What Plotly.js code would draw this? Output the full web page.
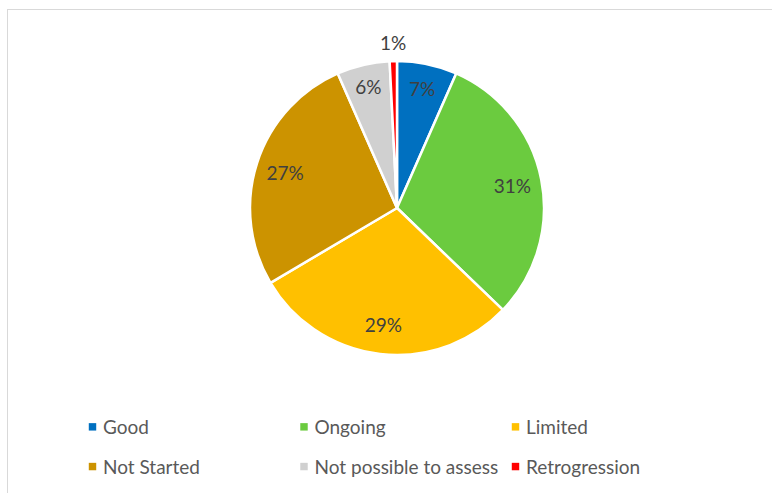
<!DOCTYPE html>
<html>
<head>
<meta charset="utf-8">
<script src="https://cdn.plot.ly/plotly-3.0.1.min.js"></script>
<style>
  html, body { margin: 0; padding: 0; background: #ffffff; overflow: hidden; }
  #frame { position: absolute; left: 7px; top: 9px; width: 800px; height: 520px;
           border-left: 1px solid #d9d9d9; border-top: 1px solid #d9d9d9; }
  #chart { position: absolute; left: 0; top: 0; width: 772px; height: 493px; }
</style>
</head>
<body>
<div id="frame"></div>
<div id="chart"></div>
<script>
const categories = ["Good", "Ongoing", "Limited", "Not Started", "Not possible to assess", "Retrogression"];
const shares = [6.6, 30.6, 29.3, 26.9, 5.8, 0.8];
const sliceColors = ["#0070C0", "#6BCB3F", "#FFC000", "#CC9300", "#D0D0D0", "#FF0000"];
const textPositions = ["inside", "inside", "inside", "inside", "inside", "none"];

const W = 772, H = 493;
const cx = 397, cy = 208, R = 147;
const pieDomain = { x: [(cx - R) / W, (cx + R) / W], y: [1 - (cy + R) / H, 1 - (cy - R) / H] };
const labelFont = { family: "Lato, sans-serif", size: 19, color: "#404040" };

// the visible pie (slices + legend)
const pieTrace = {
  type: "pie",
  labels: categories,
  values: shares,
  sort: false,
  direction: "clockwise",
  rotation: 0,
  marker: { colors: sliceColors, line: { color: "#ffffff", width: 2.5 } },
  textinfo: "none",
  domain: pieDomain,
  hoverinfo: "label+percent"
};

// transparent ring of the same slices, used only to place the percentage labels near the rim
const labelRing = {
  type: "pie",
  labels: categories,
  values: shares,
  sort: false,
  direction: "clockwise",
  rotation: 0,
  hole: 0.6,
  showlegend: false,
  marker: { colors: categories.map(() => "rgba(0,0,0,0)"), line: { width: 0 } },
  texttemplate: "%{percent:.0%}",
  textposition: textPositions,
  insidetextorientation: "horizontal",
  textfont: labelFont,
  insidetextfont: labelFont,
  domain: pieDomain,
  hoverinfo: "skip"
};

// label of the thin last slice, placed just outside the rim at the slice's mid angle
const total = shares.reduce((a, b) => a + b, 0);
const lastIdx = shares.length - 1;
const before = shares.slice(0, lastIdx).reduce((a, b) => a + b, 0);
const midAng = (before + shares[lastIdx] / 2) / total * 2 * Math.PI;
const outR = R + 19;
const smallLabel = {
  text: Math.round(shares[lastIdx] / total * 100) + "%",
  xref: "paper", yref: "paper",
  x: (cx + outR * Math.sin(midAng)) / W,
  y: 1 - (cy - outR * Math.cos(midAng)) / H,
  xanchor: "center", yanchor: "middle",
  showarrow: false,
  font: labelFont
};

const layout = {
  width: W, height: H,
  margin: { l: 0, r: 0, t: 0, b: 0 },
  paper_bgcolor: "rgba(0,0,0,0)",
  plot_bgcolor: "rgba(0,0,0,0)",
  showlegend: true,
  annotations: [smallLabel],
  legend: {
    orientation: "h",
    x: 63 / W, xanchor: "left",
    y: 1 - 408 / H, yanchor: "top",
    entrywidth: 166.5, entrywidthmode: "pixels",
    font: { family: "Lato, sans-serif", size: 19, color: "#595959" },
    traceorder: "normal"
  }
};

Plotly.newPlot("chart", [pieTrace, labelRing], layout, { staticPlot: true }).then(function (gd) {
  // small square legend keys, as in the reference
  gd.querySelectorAll(".legend .legendpoints path").forEach(function (p) {
    p.setAttribute("transform", "translate(29.5,0) scale(0.62)");
    p.style.strokeWidth = "0";
  });
  // let the legend rows draw outside its computed box
  gd.querySelectorAll(".legend [clip-path]").forEach(function (el) { el.removeAttribute("clip-path"); });
  gd.querySelectorAll(".legend").forEach(function (el) { el.removeAttribute("clip-path"); });
  // wider gap between the two legend rows
  const items = Array.from(gd.querySelectorAll(".legend .traces"));
  const pos = items.map(function (g) {
    const m = /translate\(\s*([-\d.]+)[ ,]+([-\d.]+)\s*\)/.exec(g.getAttribute("transform") || "");
    return m ? [parseFloat(m[1]), parseFloat(m[2])] : [0, 0];
  });
  const minY = Math.min.apply(null, pos.map(function (v) { return v[1]; }));
  items.forEach(function (g, i) {
    if (pos[i][1] > minY + 1) {
      g.setAttribute("transform", "translate(" + pos[i][0] + "," + (pos[i][1] + 12) + ")");
    }
  });
});
</script>
</body>
</html>
